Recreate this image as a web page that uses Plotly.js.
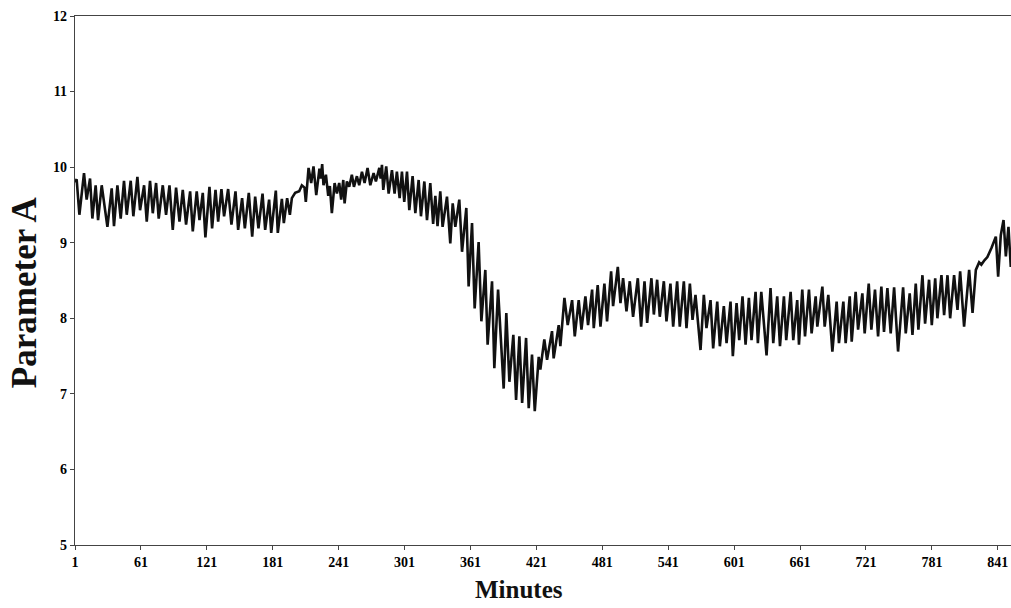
<!DOCTYPE html>
<html>
<head>
<meta charset="utf-8">
<script src="https://cdn.plot.ly/plotly-3.0.1.min.js"></script>
<style>
html,body{margin:0;padding:0;background:#fff;}
#chart{width:1011px;height:608px;}
</style>
</head>
<body>
<div id="chart"></div>
<script>
// Minutes at which the trace turns (peaks and troughs)
const minutes = [
1,2.5,5,9.2,11.6,14.7,16.8,19.8,22,25.3,30.5,34.4,36.5,39.6,42.6,45.6,48.1,51.7,54.1,57.8,
60.2,63.9,66.3,69.3,71.8,74.8,77.2,80.9,83.9,87,90,93,96.1,99.1,102.1,105.8,108.2,111.8,114.3,117.3,
119.7,123.4,125.8,128.9,131.3,134.3,136.7,140.4,143.4,147.1,149.5,153.1,155.6,159.2,162.3,165,168,171.7,174.1,177.7,
179.6,183.8,185.6,189.3,191.1,194.1,196.6,198.4,201.4,205.1,207.5,209.9,211.1,213.6,216,218.1,220.6,223.5,224.8,226,
227.2,229.4,231.5,233,234.8,237.3,239.4,241.5,243.3,245.2,246.4,248.5,250.6,253,254.9,257.6,259.7,262.2,264.6,267.3,
269.8,272.8,274.9,278,279.2,280.4,281.6,284.3,286.5,289.5,291.9,294,296.5,298.6,300.7,303.2,305.3,308.3,310.8,313.8,
315.9,319,321.4,324.4,327,329,331,333.5,335.6,339.6,342.6,344.8,347.2,350.8,353.3,357.2,359.3,362.4,364.8,368.4,
370.9,374.5,376.6,380.6,382.7,386.1,391.2,393.6,396.4,400,402.5,405.5,408,411.6,414,417,419.5,423.1,424.6,428.2,
430.7,435.2,436.7,441.3,442.8,446.5,449.5,453.5,455.9,459.5,462,465.6,468,471.7,473.2,476.8,479.3,482.9,485.3,489,
490.8,495.1,497.5,499.9,503,506,509,513.3,516.3,519.4,521.8,525.7,527.9,530.9,533.3,537,539.4,543,545.5,549.1,
551.5,555.2,557.6,560.7,563.1,565.8,570.4,573.4,575.8,579.5,581.9,585.6,588,591.6,594.1,597.7,599.8,603.2,605.6,608.6,
611.4,614.4,616.8,620.5,622.6,625.7,630.5,634.1,636.6,640.2,642.7,646.3,648.4,652.4,654.8,658.4,660,663,665.5,669.1,
671.5,675.2,676.7,681.3,683.4,686.7,690.4,694.3,696.4,700.4,702.5,706.2,708,711.6,713.8,717.7,719.8,723.5,725.9,729.2,
732,735,737.4,740.5,743.5,746.6,750.2,754.8,757.2,760.8,763.3,766.3,768.7,772.4,774.8,778.4,780.9,784,786,789.7,
792.1,795.2,797.6,801.2,804.3,806.7,810.3,814.9,818,821,824,826,829,831.5,835.2,839.2,841.3,843.7,846.2,848.3,
850.7,852.8
];
// Parameter A at those minutes
const paramA = [
9.80,9.84,9.37,9.92,9.57,9.85,9.32,9.76,9.30,9.76,9.21,9.72,9.22,9.76,9.32,9.82,9.37,9.82,9.35,9.87,
9.43,9.76,9.28,9.82,9.39,9.79,9.32,9.76,9.37,9.76,9.17,9.73,9.28,9.70,9.24,9.68,9.15,9.68,9.30,9.66,
9.07,9.74,9.19,9.70,9.28,9.71,9.35,9.71,9.24,9.68,9.17,9.59,9.19,9.66,9.08,9.61,9.19,9.65,9.17,9.57,
9.13,9.69,9.13,9.58,9.26,9.59,9.37,9.59,9.66,9.68,9.76,9.73,9.54,9.99,9.79,10.01,9.63,9.98,9.85,10.04,
9.76,9.90,9.62,9.75,9.39,9.79,9.65,9.79,9.57,9.83,9.52,9.81,9.74,9.90,9.74,9.88,9.76,9.94,9.79,9.99,
9.76,9.92,9.81,9.99,9.85,10.03,9.70,10.01,9.65,9.96,9.65,9.94,9.59,9.94,9.54,9.94,9.43,9.88,9.39,9.83,
9.35,9.81,9.30,9.79,9.25,9.62,9.22,9.68,9.21,9.61,8.99,9.52,9.21,9.57,8.88,9.46,8.42,9.26,8.13,9.01,
7.96,8.64,7.65,8.49,7.34,8.38,7.07,8.07,7.16,7.78,6.92,7.76,6.88,7.74,6.81,7.52,6.77,7.49,7.32,7.72,
7.45,7.83,7.47,7.91,7.63,8.27,7.91,8.24,7.76,8.24,7.85,8.29,7.91,8.38,7.87,8.44,7.89,8.46,7.96,8.62,
8.16,8.68,8.20,8.53,8.09,8.49,8.02,8.53,7.89,8.49,7.94,8.53,8.05,8.51,8.02,8.49,7.96,8.46,7.89,8.49,
7.89,8.49,7.87,8.46,7.98,8.31,7.58,8.31,7.87,8.24,7.60,8.22,7.63,8.16,7.67,8.22,7.50,8.20,7.71,8.29,
7.65,8.27,7.71,8.35,7.67,8.35,7.51,8.40,7.67,8.29,7.63,8.29,7.71,8.35,7.71,8.24,7.65,8.38,7.76,8.38,
7.80,8.29,7.89,8.42,7.89,8.31,7.56,8.22,7.67,8.22,7.67,8.29,7.69,8.35,7.85,8.33,7.80,8.46,7.85,8.38,
7.76,8.42,7.82,8.40,7.80,8.41,7.56,8.41,7.80,8.33,7.78,8.46,7.85,8.57,7.93,8.51,7.91,8.53,8.00,8.57,
8.04,8.57,8.00,8.57,8.11,8.62,7.89,8.64,8.07,8.64,8.74,8.71,8.77,8.81,8.93,9.08,8.55,9.10,9.30,8.82,
9.21,8.68
];
const xTicks = [1,61,121,181,241,301,361,421,481,541,601,661,721,781,841];
const yTicks = [5,6,7,8,9,10,11,12];
const xTitle = 'Minutes';
const yTitle = 'Parameter A';

const serif = "Liberation Serif, Times New Roman, serif";

Plotly.newPlot('chart', [{
  x: minutes, y: paramA, type: 'scatter', mode: 'lines',
  line: {color: '#111', width: 2.6}, hoverinfo: 'skip'
}], {
  width: 1011, height: 608,
  margin: {l: 75, r: 0, t: 16, b: 63},
  paper_bgcolor: '#fff', plot_bgcolor: '#fff',
  showlegend: false,
  xaxis: {
    range: [1, 853], tickvals: xTicks, ticktext: xTicks.map(String),
    showgrid: false, zeroline: false,
    showline: true, mirror: true, linecolor: '#444', linewidth: 1.2,
    ticks: 'outside', ticklen: 4, tickcolor: '#444',
    tickfont: {family: serif, size: 14, color: '#000', weight: 'bold'}
  },
  yaxis: {
    range: [5, 12], tickvals: yTicks,
    showgrid: false, zeroline: false,
    showline: true, linecolor: '#444', linewidth: 1.2,
    ticks: 'outside', ticklen: 4, tickcolor: '#444',
    tickfont: {family: serif, size: 14, color: '#000', weight: 'bold'}
  },
  annotations: [
    {text: '<b>' + xTitle + '</b>', xref: 'paper', yref: 'paper', x: 0.4744, y: -0.084,
     xanchor: 'center', yanchor: 'middle', showarrow: false,
     font: {family: serif, size: 25, color: '#111'}},
    {text: '<b>' + yTitle + '</b>', xref: 'paper', yref: 'paper', x: -0.0545, y: 0.478,
     xanchor: 'center', yanchor: 'middle', showarrow: false, textangle: -90,
     font: {family: serif, size: 35, color: '#111'}}
  ]
}, {displayModeBar: false, staticPlot: true});
</script>
</body>
</html>
